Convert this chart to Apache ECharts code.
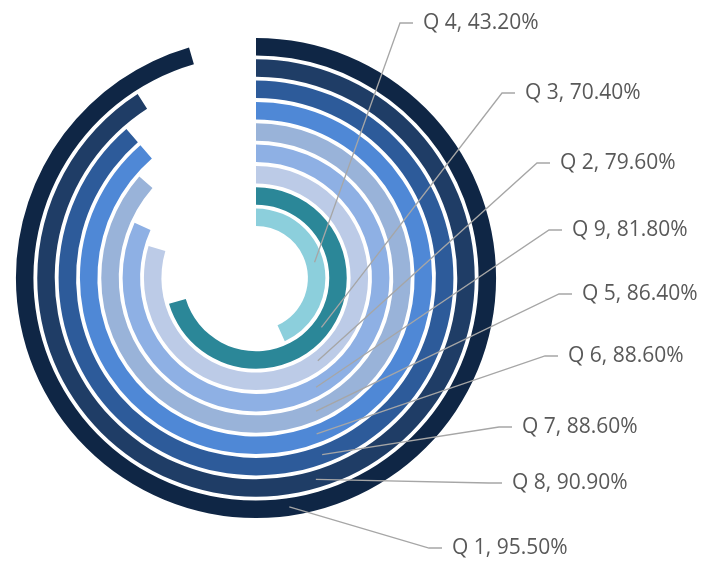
<!DOCTYPE html>
<html>
<head>
<meta charset="utf-8">
<script src="https://cdn.jsdelivr.net/npm/echarts@6/dist/echarts.min.js"></script>
<style>
html,body{margin:0;padding:0;background:#ffffff;}
#chart{width:715px;height:561px;}
</style>
</head>
<body>
<div id="chart"></div>
<script>
// Rings from inner to outer
const categories = ['Q 4', 'Q 3', 'Q 2', 'Q 9', 'Q 5', 'Q 6', 'Q 7', 'Q 8', 'Q 1'];
const values = [43.2, 70.4, 79.6, 81.8, 86.4, 88.6, 88.6, 90.9, 95.5];

// styling / layout (not data)
const ringColors = ['#8ccfdc', '#2b8798', '#bccbe7', '#8eb0e4', '#99b3d9', '#4f88d6', '#2d5b9a', '#1f3d66', '#0f2645'];
const labelPos = [[423, 23], [525, 93], [560, 163], [572, 230], [582, 294], [568, 356], [522, 427], [512, 483], [452, 548]];
const anchorAngle = [20.8, 35.3, 39.8, 42.0, 43.25, 44.1, 44.3, 45.4, 47.7];

const CX = 256, CY = 278, R0 = 50, R1 = 242;

const chart = echarts.init(document.getElementById('chart'), null, {renderer: 'canvas'});

const option = {
  backgroundColor: '#ffffff',
  animation: false,
  polar: { center: [CX, CY], radius: [R0, R1] },
  angleAxis: {
    type: 'value', min: 0, max: 100, startAngle: 90, clockwise: true,
    show: false, axisLine: {show: false}, splitLine: {show: false}, axisLabel: {show: false}, axisTick: {show: false}
  },
  radiusAxis: {
    type: 'category', data: categories, show: false,
    axisLine: {show: false}, axisTick: {show: false}, axisLabel: {show: false}
  },
  series: [{
    type: 'bar',
    coordinateSystem: 'polar',
    barCategoryGap: '18%',
    data: values.map((v, i) => ({ value: v, itemStyle: { color: ringColors[i] } })),
    silent: true
  }]
};
chart.setOption(option);

function anchorPoint(i) {
  let p = null;
  try { p = chart.convertToPixel({polarIndex: 0}, [i, anchorAngle[i]]); } catch (e) { p = null; }
  if (!p || isNaN(p[0])) {
    const band = (R1 - R0) / categories.length;
    const r = R0 + band * (i + 0.5);
    const th = anchorAngle[i] / 100 * 2 * Math.PI;
    p = [CX + r * Math.sin(th), CY - r * Math.cos(th)];
  }
  return p;
}

const graphics = [];
categories.forEach((c, i) => {
  const [tx, ty] = labelPos[i];
  const a = anchorPoint(i);
  graphics.push({
    type: 'polyline',
    shape: { points: [a, [tx - 23, ty], [tx - 10, ty]] },
    style: { stroke: '#a6a6a6', lineWidth: 1.3, fill: null },
    z: 10
  });
  graphics.push({
    type: 'text',
    x: tx, y: ty,
    style: {
      text: c + ', ' + values[i].toFixed(2) + '%',
      fill: '#595959',
      font: '21px "Open Sans", sans-serif',
      textAlign: 'left',
      textVerticalAlign: 'middle'
    },
    z: 11
  });
});
chart.setOption({ graphic: graphics });
</script>
</body>
</html>
